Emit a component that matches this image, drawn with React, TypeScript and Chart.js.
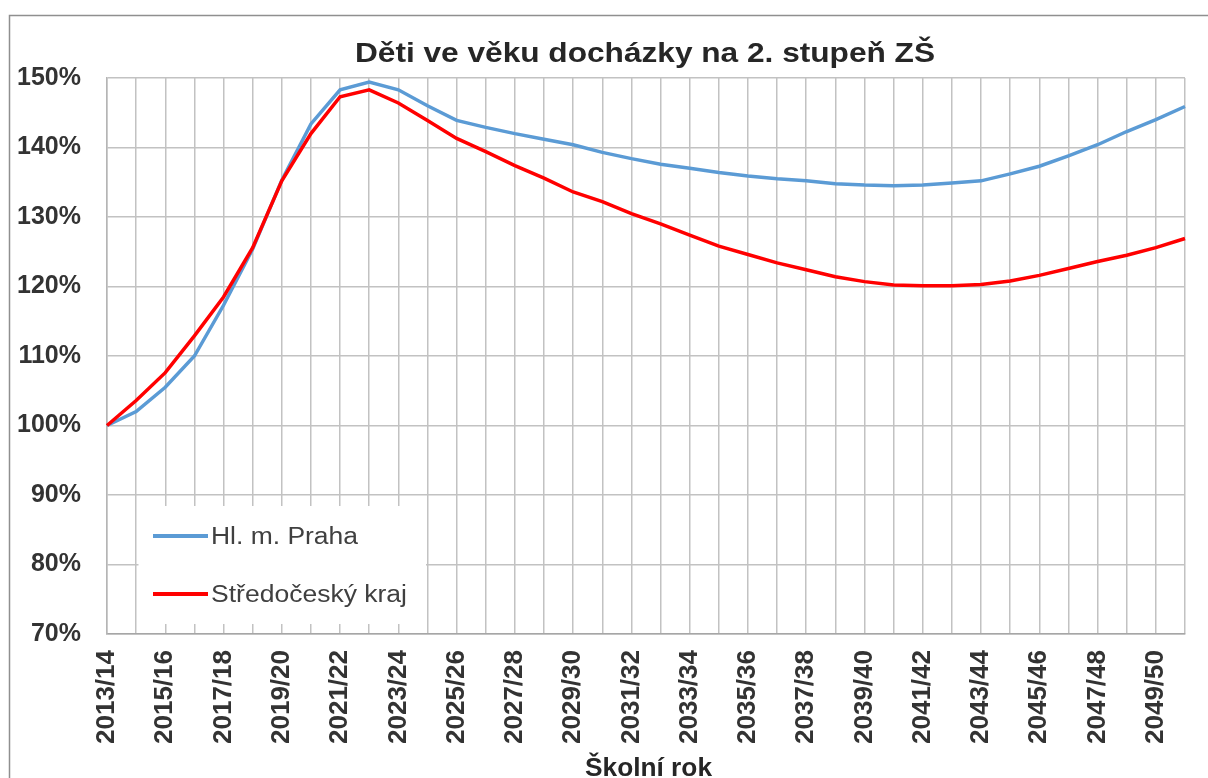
import { useEffect, useRef } from 'react';
import { Chart, registerables } from 'chart.js';

Chart.register(...registerables);

const FONT = '"Liberation Sans", Arial, sans-serif';

const chartTitle = 'Děti ve věku docházky na 2. stupeň ZŠ';
const xAxisTitle = 'Školní rok';
const seriesNames = ['Hl. m. Praha', 'Středočeský kraj'];

const schoolYears = [
  '2013/14', '2014/15', '2015/16', '2016/17', '2017/18', '2018/19', '2019/20', '2020/21',
  '2021/22', '2022/23', '2023/24', '2024/25', '2025/26', '2026/27', '2027/28', '2028/29',
  '2029/30', '2030/31', '2031/32', '2032/33', '2033/34', '2034/35', '2035/36', '2036/37',
  '2037/38', '2038/39', '2039/40', '2040/41', '2041/42', '2042/43', '2043/44', '2044/45',
  '2045/46', '2046/47', '2047/48', '2048/49', '2049/50', '2050/51',
];

const prahaValues = [
  100, 102.0, 105.5, 110.0, 117.3, 125.4, 135.3, 143.4,
  148.3, 149.4, 148.3, 146.0, 143.9, 142.9, 142.0, 141.2,
  140.4, 139.3, 138.4, 137.6, 137.0, 136.4, 135.9, 135.5,
  135.2, 134.8, 134.6, 134.5, 134.6, 134.9, 135.2, 136.2,
  137.3, 138.8, 140.4, 142.3, 144.0, 145.9,
];

const stredoceskyValues = [
  100, 103.6, 107.6, 112.9, 118.5, 125.6, 135.2, 142.0,
  147.3, 148.3, 146.4, 143.9, 141.3, 139.4, 137.4, 135.6,
  133.6, 132.2, 130.5, 129.0, 127.4, 125.8, 124.6, 123.4,
  122.4, 121.4, 120.7, 120.2, 120.1, 120.1, 120.3, 120.8,
  121.6, 122.6, 123.6, 124.5, 125.6, 126.9,
];

const yMin = 70;
const yMax = 150;
const yStep = 10;

const PRAHA_COLOR = '#5B9BD5';
const STRED_COLOR = '#FF0000';
const GRID_COLOR = '#c2c2c2';

function drawStretched(
  ctx: CanvasRenderingContext2D,
  text: string,
  x: number,
  baseline: number,
  font: string,
  color: string,
  targetWidth: number,
  align: 'left' | 'center',
) {
  ctx.save();
  ctx.font = font;
  ctx.fillStyle = color;
  ctx.textBaseline = 'alphabetic';
  ctx.textAlign = 'left';
  const w = ctx.measureText(text).width;
  const sx = targetWidth / w;
  const left = align === 'center' ? x - targetWidth / 2 : x;
  ctx.translate(left, baseline);
  ctx.scale(sx, 1);
  ctx.fillText(text, 0, 0);
  ctx.restore();
}

const decorPlugin = {
  id: 'decor',
  beforeDraw(chart: any) {
    const ctx = chart.ctx as CanvasRenderingContext2D;
    ctx.save();
    ctx.fillStyle = '#ffffff';
    ctx.fillRect(0, 0, chart.width, chart.height);
    ctx.strokeStyle = '#8f8f8f';
    ctx.lineWidth = 1.5;
    ctx.beginPath();
    ctx.moveTo(9.5, chart.height + 2);
    ctx.lineTo(9.5, 15.5);
    ctx.lineTo(chart.width + 2, 15.5);
    ctx.stroke();
    ctx.restore();
  },
  afterDatasetsDraw(chart: any) {
    const ctx = chart.ctx as CanvasRenderingContext2D;
    ctx.save();
    ctx.fillStyle = '#ffffff';
    ctx.fillRect(138.5, 506, 287.5, 118);
    const rows = [
      { name: seriesNames[0], color: PRAHA_COLOR, y: 536, base: 544, w: 147 },
      { name: seriesNames[1], color: STRED_COLOR, y: 594, base: 602, w: 196 },
    ];
    rows.forEach((r) => {
      ctx.strokeStyle = r.color;
      ctx.lineWidth = 4;
      ctx.lineCap = 'butt';
      ctx.beginPath();
      ctx.moveTo(153, r.y);
      ctx.lineTo(208, r.y);
      ctx.stroke();
      drawStretched(ctx, r.name, 211, r.base, `23px ${FONT}`, '#404040', r.w, 'left');
    });
    ctx.restore();
  },
  afterDraw(chart: any) {
    const ctx = chart.ctx as CanvasRenderingContext2D;
    drawStretched(ctx, chartTitle, 645, 62, `bold 28px ${FONT}`, '#262626', 580, 'center');
    drawStretched(ctx, xAxisTitle, 648.5, 776, `bold 26px ${FONT}`, '#262626', 127, 'center');
  },
};

export default function App() {
  const canvasRef = useRef<HTMLCanvasElement | null>(null);

  useEffect(() => {
    if (!canvasRef.current) return;
    const chart = new Chart(canvasRef.current, {
      type: 'line',
      data: {
        labels: schoolYears,
        datasets: [
          {
            label: seriesNames[0],
            data: prahaValues,
            borderColor: PRAHA_COLOR,
            backgroundColor: PRAHA_COLOR,
            borderWidth: 3.5,
            pointRadius: 0,
            tension: 0,
            order: 1,
          },
          {
            label: seriesNames[1],
            data: stredoceskyValues,
            borderColor: STRED_COLOR,
            backgroundColor: STRED_COLOR,
            borderWidth: 3.5,
            pointRadius: 0,
            tension: 0,
            order: 0,
          },
        ],
      },
      options: {
        animation: false,
        responsive: true,
        maintainAspectRatio: false,
        layout: { padding: { top: 78, right: 23, bottom: 0, left: 0 } },
        plugins: {
          legend: { display: false },
          tooltip: { enabled: false },
          title: { display: false },
        },
        scales: {
          x: {
            type: 'category',
            offset: false,
            grid: { color: GRID_COLOR, lineWidth: 1.5, drawTicks: false },
            border: { color: '#a6a6a6', width: 1.5 },
            ticks: {
              autoSkip: false,
              minRotation: 90,
              maxRotation: 90,
              padding: 16,
              color: '#333333',
              font: { family: FONT, size: 26, weight: 'bold' },
              callback: (_v: any, i: number) => (i % 2 === 0 ? schoolYears[i] : ''),
            },
            afterFit: (s: any) => {
              s.height = 144;
              s.paddingLeft = 0;
              s.paddingRight = 0;
            },
          },
          y: {
            min: yMin,
            max: yMax,
            grid: { color: GRID_COLOR, lineWidth: 1.5, drawTicks: false },
            border: { color: '#b5b5b5', width: 1.5 },
            ticks: {
              stepSize: yStep,
              padding: 26,
              color: '#333333',
              font: { family: FONT, size: 25, weight: 'bold' },
              callback: (v: any) => `${v}%`,
            },
            afterFit: (s: any) => {
              s.width = 107;
              s.paddingTop = 0;
              s.paddingBottom = 0;
            },
          },
        },
      },
      plugins: [decorPlugin],
    });
    return () => chart.destroy();
  }, []);

  return (
    <div style={{ position: 'absolute', left: 0, top: 0, width: 1208, height: 778 }}>
      <canvas ref={canvasRef} />
    </div>
  );
}
